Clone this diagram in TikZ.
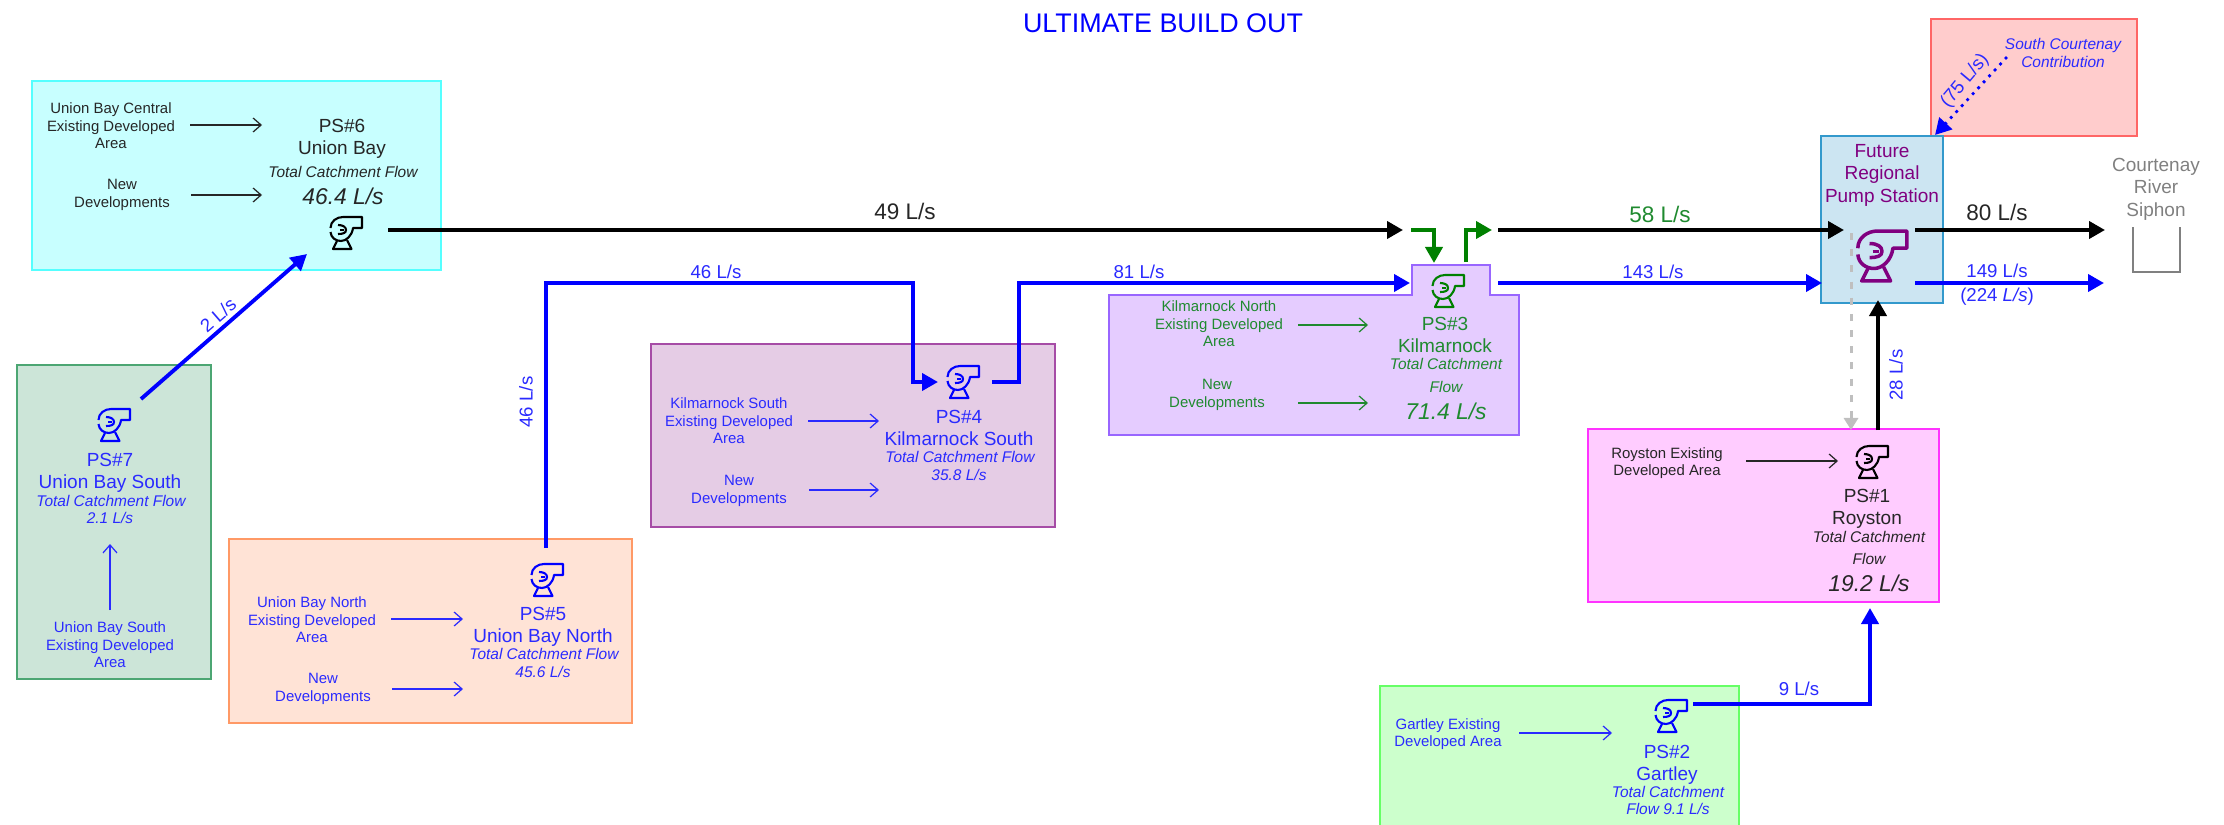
\documentclass[tikz,border=0pt]{standalone}
\usepackage{xcolor}
\usepackage{fontspec}
\setmainfont{Liberation Sans}
\usetikzlibrary{arrows.meta}

\definecolor{cyanfill}{HTML}{C8FFFF}
\definecolor{cyanline}{HTML}{55FFFF}
\definecolor{seafill}{HTML}{CCE5D8}
\definecolor{sealine}{HTML}{4CA673}
\definecolor{peachfill}{HTML}{FFE3D6}
\definecolor{peachline}{HTML}{FF9966}
\definecolor{plumfill}{HTML}{E5CCE5}
\definecolor{plumline}{HTML}{A64CA6}
\definecolor{lilacfill}{HTML}{E5CCFF}
\definecolor{lilacline}{HTML}{9966FF}
\definecolor{pinkfill}{HTML}{FFCCFF}
\definecolor{pinkline}{HTML}{FF33FF}
\definecolor{limefill}{HTML}{CCFFCC}
\definecolor{limeline}{HTML}{66FF66}
\definecolor{rosefill}{HTML}{FFCCCC}
\definecolor{roseline}{HTML}{FF6666}
\definecolor{skyfill}{HTML}{CCE5F2}
\definecolor{skyline}{HTML}{3399CC}
\definecolor{pipegreen}{HTML}{008000}
\definecolor{pumppurple}{HTML}{800080}
\definecolor{txtblue}{HTML}{2A2AFF}
\definecolor{txtgreen}{HTML}{1F8A2F}
\definecolor{txtdark}{HTML}{262626}

\tikzset{
  smalltxt/.style={inner sep=0pt, align=center, text=txtdark, font=\fontsize{4.25}{5}\selectfont},
  nametxt/.style={inner sep=0pt, align=center, text=txtdark, font=\fontsize{5.4}{6.4}\selectfont},
  catchtxt/.style={inner sep=0pt, text=txtdark, font=\fontsize{4.4}{5}\itshape\selectfont},
  bigflow/.style={inner sep=0pt, text=txtdark, font=\fontsize{6.5}{7}\itshape\selectfont},
  flowtxt/.style={inner sep=0pt, align=center, text=txtblue, font=\fontsize{5.3}{7}\selectfont},
  mainflow/.style={inner sep=0pt, text=txtdark, font=\fontsize{6.4}{7}\selectfont},
  boxline/.style={line width=0.8pt},
  pipe/.style={line width=1.1pt, line join=miter, -{Triangle[length=1.6mm,width=1.7mm]}},
  feed/.style={line width=0.35pt, -{Straight Barb[length=0.8mm,width=1.4mm]}},
  pumpstyle/.style={line width=0.6pt, line join=round},
  pics/pump/.style={code={
    \draw[pumpstyle] (-15.5,-5) .. controls (-15.5,-12) and (-9,-16) .. (-3,-16) -- (16,-16) -- (16,-5) -- (7,-5)
      .. controls (6,3) and (0,8) .. (-5,8) .. controls (-10,8) and (-15,5) .. (-15.5,-1);
    \draw[pumpstyle] (-8,-8) .. controls (-3,-8) and (0,-6) .. (0,-3) .. controls (0,0) and (-3,1) .. (-8,1);
    \draw[pumpstyle] (-6,-3) -- (-2,-3);
    \draw[pumpstyle] (-9,8) -- (-13,16) -- (5.5,16) -- (1,7);
  }}
}

\begin{document}
\begin{tikzpicture}[x=0.01cm, y=-0.01cm]
\useasboundingbox (0,0) rectangle (2224,824);

\node (title) [inner sep=0pt, text=blue, font=\fontsize{7.65}{9}\selectfont] at (1163,23) {ULTIMATE BUILD OUT};

% catchment boxes
\draw[cyanline, fill=cyanfill, boxline] (32,81) rectangle (441,270);
\draw[sealine, fill=seafill, boxline] (17,365) rectangle (211,679);
\draw[peachline, fill=peachfill, boxline] (229,539) rectangle (632,723);
\draw[plumline, fill=plumfill, boxline] (651,344) rectangle (1055,527);
\draw[lilacline, fill=lilacfill, boxline] (1109,295) -- (1412,295) -- (1412,265) -- (1490,265) -- (1490,295) -- (1519,295) -- (1519,435) -- (1109,435) -- cycle;
\draw[pinkline, fill=pinkfill, boxline] (1588,429) rectangle (1939,602);
\draw[limeline, fill=limefill, boxline] (1380,834) -- (1380,686) -- (1739,686) -- (1739,834);
\draw[roseline, fill=rosefill, boxline] (1931,19) rectangle (2137,136);
\draw[skyline, fill=skyfill, boxline] (1821,136) rectangle (1943,303);

% PS6
\pic[black] at (346,233) {pump};
\node (name6) [nametxt] at (342,139) {PS\#6\\Union Bay};
\node (catch6) [catchtxt] at (343,172) {Total Catchment Flow};
\node (flow6) [bigflow] at (343,196) {46.4 L/s};
\node (area6) [smalltxt] at (111,126) {Union Bay Central\\Existing Developed\\Area};
\node (new6) [smalltxt] at (122,195) {New\\Developments};
\draw[feed, txtdark] (190,125) -- (262,125);
\draw[feed, txtdark] (191,195) -- (262,195);

% PS7
\pic[blue] at (114,425) {pump};
\node (name7) [nametxt, text=txtblue] at (110,473) {PS\#7\\Union Bay South};
\node (catch7) [catchtxt, text=txtblue] at (111,501) {Total Catchment Flow};
\node (flow7) [catchtxt, text=txtblue] at (110,518) {2.1 L/s};
\node (area7) [smalltxt, text=txtblue] at (110,645) {Union Bay South\\Existing Developed\\Area};
\draw[feed, txtblue] (110,610) -- (110,544);

% PS5
\pic[blue] at (547,580) {pump};
\node (name5) [nametxt, text=txtblue] at (543,627) {PS\#5\\Union Bay North};
\node (catch5) [catchtxt, text=txtblue] at (544,654) {Total Catchment Flow};
\node (flow5) [catchtxt, text=txtblue] at (543,672) {45.6 L/s};
\node (area5) [smalltxt, text=txtblue] at (312,620) {Union Bay North\\Existing Developed\\Area};
\node (new5) [smalltxt, text=txtblue] at (323,689) {New\\Developments};
\draw[feed, txtblue] (391,619) -- (463,619);
\draw[feed, txtblue] (392,689) -- (463,689);

% PS4
\pic[blue] at (963,382) {pump};
\node (name4) [nametxt, text=txtblue] at (959,428) {PS\#4\\Kilmarnock South};
\node (catch4) [catchtxt, text=txtblue] at (960,457) {Total Catchment Flow};
\node (flow4) [catchtxt, text=txtblue] at (959,475) {35.8 L/s};
\node (area4) [smalltxt, text=txtblue] at (729,421) {Kilmarnock South\\Existing Developed\\Area};
\node (new4) [smalltxt, text=txtblue] at (739,491) {New\\Developments};
\draw[feed, txtblue] (808,421) -- (879,421);
\draw[feed, txtblue] (809,490) -- (879,490);

% PS3
\pic[pipegreen] at (1448,291) {pump};
\node (name3) [nametxt, text=txtgreen] at (1445,335) {PS\#3\\Kilmarnock};
\node (catch3) [catchtxt, text=txtgreen] at (1446,364) {Total Catchment};
\node (catch3b) [catchtxt, text=txtgreen] at (1446,387) {Flow};
\node (flow3) [bigflow, text=txtgreen] at (1446,411) {71.4 L/s};
\node (area3) [smalltxt, text=txtgreen] at (1219,324) {Kilmarnock North\\Existing Developed\\Area};
\node (new3) [smalltxt, text=txtgreen] at (1217,395) {New\\Developments};
\draw[feed, txtgreen] (1298,325) -- (1368,325);
\draw[feed, txtgreen] (1298,403) -- (1368,403);

% PS1
\pic[black] at (1872,462) {pump};
\node (name1) [nametxt] at (1867,509) {PS\#1\\Royston};
\node (catch1) [catchtxt] at (1869,537) {Total Catchment};
\node (catch1b) [catchtxt] at (1869,559) {Flow};
\node (flow1) [bigflow] at (1869,583) {19.2 L/s};
\node (area1) [smalltxt] at (1667,463) {Royston Existing\\Developed Area};
\draw[feed, txtdark] (1746,461) -- (1838,461);

% PS2
\pic[blue] at (1671,716) {pump};
\node (name2) [nametxt, text=txtblue] at (1667,765) {PS\#2\\Gartley};
\node (catch2) [catchtxt, text=txtblue] at (1668,792) {Total Catchment};
\node (catch2b) [catchtxt, text=txtblue] at (1668,809) {Flow 9.1 L/s};
\node (area2) [smalltxt, text=txtblue] at (1448,734) {Gartley Existing\\Developed Area};
\draw[feed, txtblue] (1519,733) -- (1612,733);

% regional station
\pic[pumppurple, scale=1.56, pumpstyle/.append style={line width=1pt}] at (1882,256) {pump};
\node (regional) [nametxt, text=pumppurple] at (1882,175) {Future\\Regional\\Pump Station};
\node (south) [catchtxt, align=center, text=txtblue] at (2063,53) {South Courtenay\\Contribution};
\node (siphon) [nametxt, text=gray] at (2156,189) {Courtenay\\River\\Siphon};
\draw[gray, line width=0.5pt] (2133,227) -- (2133,272) -- (2180,272) -- (2180,227);

% ports
\coordinate (out6) at (388,230);
\coordinate (in3) at (1403,230);
\coordinate (out3) at (1498,230);
\coordinate (in8) at (1844,230);
\coordinate (out8) at (1915,230);
\coordinate (endb) at (2105,230);
\coordinate (out7) at (141,399);
\coordinate (in6) at (307,254);
\coordinate (out5) at (546,548);
\coordinate (c5a) at (546,283);
\coordinate (c5b) at (913,283);
\coordinate (c5c) at (913,382);
\coordinate (in4) at (938,382);
\coordinate (out4) at (992,382);
\coordinate (c4a) at (1019,382);
\coordinate (c4b) at (1019,283);
\coordinate (in3b) at (1410,283);
\coordinate (out3b) at (1498,283);
\coordinate (in8b) at (1822,283);
\coordinate (out8b) at (1915,283);
\coordinate (endc) at (2104,283);
\coordinate (out2) at (1693,704);
\coordinate (c2) at (1870,704);
\coordinate (in1) at (1870,608);
\coordinate (out1) at (1878,430);
\coordinate (in8c) at (1878,300);
\coordinate (gray8) at (1851,233);
\coordinate (gray1) at (1851,430);
\coordinate (south1) at (2006,58);
\coordinate (south2) at (1935,135);
\coordinate (gin1) at (1411,230);
\coordinate (gin2) at (1434,230);
\coordinate (gin3) at (1434,263);
\coordinate (gout1) at (1466,262);
\coordinate (gout2) at (1466,230);
\coordinate (gout3) at (1492,230);

% flows
\draw[pipe] (out6) -- (in3);
\draw[pipe] (out3) -- (in8);
\draw[pipe] (out8) -- (endb);
\draw[pipe, blue] (out7) -- (in6);
\draw[pipe, blue] (out5) -- (c5a) -- (c5b) -- (c5c) -- (in4);
\draw[pipe, blue] (out4) -- (c4a) -- (c4b) -- (in3b);
\draw[pipe, blue] (out3b) -- (in8b);
\draw[pipe, blue] (out8b) -- (endc);
\draw[pipe, blue] (out2) -- (c2) -- (in1);
\draw[pipe] (out1) -- (in8c);
\draw[line width=0.85pt, color=black!25, dash pattern=on 2pt off 2.6pt, -{Triangle[length=1.2mm,width=1.4mm]}] (gray8) -- (gray1);
\draw[line width=1.1pt, blue, line cap=round, dash pattern=on 0pt off 2.3pt, -{Triangle[length=1.6mm,width=1.7mm]}] (south1) -- (south2);
\draw[pipe, pipegreen] (gin1) -- (gin2) -- (gin3);
\draw[pipe, pipegreen] (gout1) -- (gout2) -- (gout3);

% flow labels
\node (lbl49) [mainflow] at (905,211) {49 L/s};
\node (lbl58) [mainflow, text=txtgreen] at (1660,214) {58 L/s};
\node (lbl80) [mainflow] at (1997,212) {80 L/s};
\node (lbl2) [flowtxt, rotate=41] at (218,315) {2 L/s};
\node (lbl46a) [flowtxt, rotate=90] at (526,402) {46 L/s};
\node (lbl46b) [flowtxt] at (716,272) {46 L/s};
\node (lbl81) [flowtxt] at (1139,272) {81 L/s};
\node (lbl143) [flowtxt] at (1653,272) {143 L/s};
\node (lbl149) [flowtxt] at (1997,271) {149 L/s};
\node (lbl224) [flowtxt] at (1997,297) {(224 \textit{L/s})};
\node (lbl28) [flowtxt, rotate=90] at (1896,375) {28 L/s};
\node (lbl9) [flowtxt] at (1799,689) {9 L/s};
\node (lbl75) [flowtxt, rotate=50] at (1965,81) {(75 L/s)};

\end{tikzpicture}
\end{document}
